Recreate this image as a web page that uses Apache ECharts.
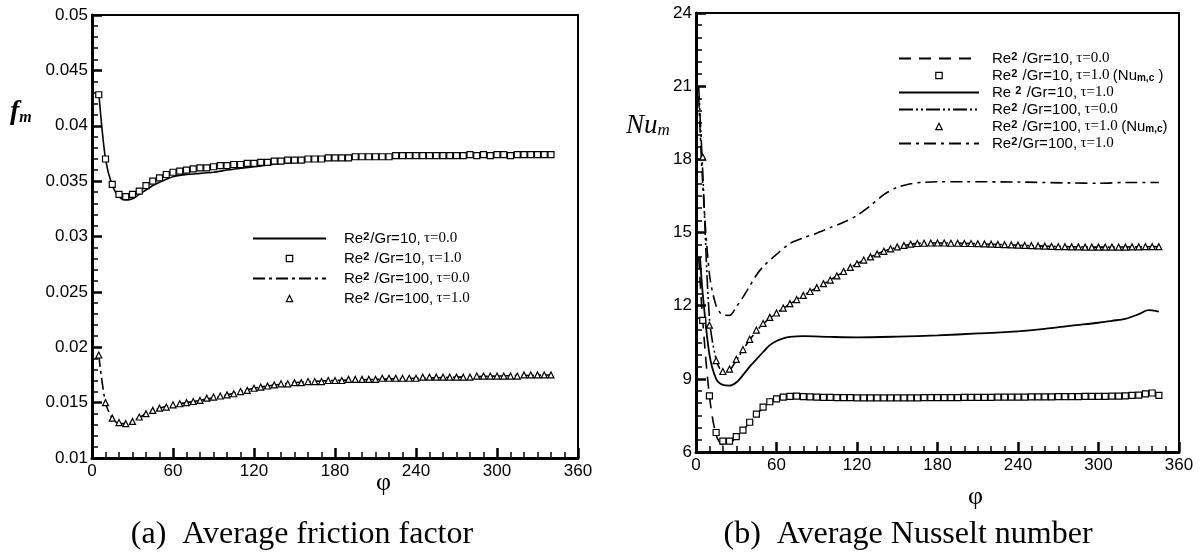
<!DOCTYPE html>
<html>
<head>
<meta charset="utf-8">
<script src="https://cdn.jsdelivr.net/npm/echarts@6/dist/echarts.min.js"></script>
<style>
  html, body { margin: 0; padding: 0; background: #fff; }
  #main { width: 1204px; height: 556px; }
</style>
</head>
<body>
<div id="main"></div>
<script>
// ---- (a) friction factor ----
const phiMarkA = [5,10,15,20,25,30,35,40,45,50,55,60,65,70,75,80,85,90,95,100,105,110,115,120,125,130,135,140,145,150,155,160,165,170,175,180,185,190,195,200,205,210,215,220,225,230,235,240,245,250,255,260,265,270,275,280,285,290,295,300,305,310,315,320,325,330,335,340]
const fSq10 = [
  .0428,.0370,.0347,.0338,.0336,.0338,.0341,.0346,.0350,.0353,
  .0356,.0358,.0359,.0360,.0361,.0362,.0362,.0363,.0364,.0364,
  .0365,.0365,.0366,.0366,.0367,.0367,.0368,.0368,.0369,.0369,
  .0369,.0370,.0370,.0370,.0371,.0371,.0371,.0371,.0372,.0372,
  .0372,.0372,.0372,.0372,.0373,.0373,.0373,.0373,.0373,.0373,
  .0373,.0373,.0373,.0373,.0373,.0374,.0373,.0374,.0373,.0374,
  .0374,.0373,.0374,.0374,.0374,.0374,.0374,.0374]
const fTri100 = [
  .0193,.0150,.0136,.0132,.0131,.0133,.0137,.0140,.0143,.0145,
  .0146,.0148,.0149,.0150,.0151,.0152,.0154,.0155,.0156,.0157,
  .0158,.0160,.0161,.0163,.0164,.0165,.0166,.0167,.0167,.0168,
  .0168,.0169,.0169,.0169,.0170,.0170,.0170,.0171,.0171,.0171,
  .0171,.0171,.0172,.0172,.0172,.0172,.0172,.0172,.0173,.0173,
  .0173,.0173,.0173,.0173,.0173,.0173,.0174,.0174,.0174,.0174,
  .0174,.0174,.0174,.0175,.0175,.0175,.0175,.0175]
const phiLineA10 = [5,10,15,20,25,30,35,40,45,50,60,70,80,90,100,120,140,160,180,200,220,240,270,300,340]
const fLine10 = [.0430,.0370,.0346,.0336,.0333,.0334,.0338,.0342,.0346,.0349,.0354,.0356,.0357,.0358,.0360,.0363,.0366,.0368,.0370,.0371,.0372,.0372,.0373,.0373,.0373]
const phiLineA100 = [5,10,15,20,25,30,40,50,60,80,100,120,150,180,210,240,270,300,340]
const fLine100 = [.0193,.0150,.0136,.0131,.0131,.0133,.0140,.0145,.0148,.0152,.0157,.0163,.0168,.0170,.0171,.0172,.0173,.0174,.0175]

// ---- (b) Nusselt number ----
const phiMarkB = [5,10,15,20,25,30,35,40,45,50,55,60,65,70,75,80,85,90,95,100,105,110,115,120,125,130,135,140,145,150,155,160,165,170,175,180,185,190,195,200,205,210,215,220,225,230,235,240,245,250,255,260,265,270,275,280,285,290,295,300,305,310,315,320,325,330,335,340,345]
const nuSq10 = [
  11.4,8.3,6.8,6.45,6.45,6.63,6.9,7.22,7.55,7.84,
  8.06,8.18,8.25,8.28,8.29,8.27,8.26,8.25,8.24,8.24,
  8.23,8.23,8.23,8.22,8.22,8.22,8.22,8.22,8.22,8.22,
  8.22,8.22,8.22,8.23,8.23,8.23,8.23,8.23,8.23,8.24,
  8.24,8.24,8.24,8.24,8.25,8.25,8.25,8.25,8.25,8.26,
  8.26,8.26,8.26,8.27,8.27,8.27,8.27,8.28,8.28,8.28,
  8.28,8.29,8.29,8.3,8.32,8.33,8.38,8.42,8.32]
const nuTri100 = [
  18.1,11.2,9.75,9.3,9.4,9.8,10.2,10.62,11.0,11.27,
  11.52,11.7,11.9,12.08,12.25,12.42,12.58,12.74,12.9,13.05,
  13.22,13.4,13.57,13.72,13.87,14.0,14.12,14.23,14.33,14.41,
  14.47,14.52,14.55,14.56,14.57,14.57,14.57,14.56,14.56,14.55,
  14.55,14.54,14.53,14.52,14.51,14.5,14.49,14.48,14.47,14.46,
  14.45,14.44,14.43,14.42,14.42,14.41,14.41,14.4,14.4,14.4,
  14.4,14.4,14.4,14.4,14.41,14.41,14.42,14.42,14.42]
const phiDash10 = [2,5,10,15,20,25,30,35,40,45,50,55,60,70,80,100,150,200,250,300,330,345]
const nuDash10 = [14.0,11.4,8.3,6.7,6.3,6.35,6.6,6.9,7.2,7.52,7.82,8.04,8.16,8.26,8.26,8.24,8.22,8.23,8.26,8.28,8.33,8.32]
const phiSolid10 = [3,5,10,15,20,25,30,35,40,45,50,55,60,65,70,80,100,120,150,180,210,240,260,280,300,310,320,330,337,345]
const nuSolid10 = [14.0,12.5,10.0,9.0,8.75,8.72,8.85,9.15,9.5,9.8,10.1,10.38,10.55,10.66,10.72,10.75,10.72,10.7,10.73,10.78,10.86,10.95,11.05,11.18,11.3,11.38,11.46,11.65,11.82,11.76]
const phiDdd100 = [2,5,10,15,20,25,30,40,50,60,80,100,120,140,160,180,220,260,300,345]
const nuDdd100 = [21.0,17.5,11.5,9.8,9.3,9.35,9.75,10.6,11.25,11.7,12.42,13.05,13.72,14.23,14.52,14.57,14.52,14.44,14.4,14.42]
const phiDd100 = [2,5,10,15,20,25,30,35,40,45,50,60,70,80,90,100,110,120,130,140,150,160,170,180,200,240,280,300,320,345]
const nuDd100 = [20.6,17.0,13.3,12.0,11.62,11.6,11.95,12.35,12.8,13.25,13.6,14.1,14.55,14.78,14.97,15.2,15.42,15.7,16.1,16.55,16.85,17.0,17.06,17.08,17.08,17.07,17.03,17.02,17.05,17.05]

const legendText = {
  a1: '{s|Re}{p|2}{s|/Gr=10,} {t|τ=0.0}',
  a2: '{s|Re}{p|2}{s| /Gr=10,} {t|τ=1.0}',
  a3: '{s|Re}{p|2}{s| /Gr=100,} {t|τ=0.0}',
  a4: '{s|Re}{p|2}{s| /Gr=100,} {t|τ=1.0}',
  b1: '{s|Re}{p|2}{s| /Gr=10,} {t|τ=0.0}',
  b2: '{s|Re}{p|2}{s| /Gr=10,} {t|τ=1.0} {s|(Nu}{u|m,c}{s| )}',
  b3: '{s|Re }{p|2}{s| /Gr=10,} {t|τ=1.0}',
  b4: '{s|Re}{p|2}{s| /Gr=100,} {t|τ=0.0}',
  b5: '{s|Re}{p|2}{s| /Gr=100,} {t|τ=1.0} {s|(Nu}{u|m,c}{s|)}',
  b6: '{s|Re}{p|2}{s|/Gr=100,} {t|τ=1.0}'
}

function pairs (xs, ys) {
  return xs.map(function (x, i) { return [x, ys[i]] })
}

const chart = echarts.init(document.getElementById('main'))

const sans = 'Liberation Sans'
const serif = 'Liberation Serif'

function xAxisOf (idx) {
  return {
    gridIndex: idx,
    type: 'value',
    min: 0,
    max: 360,
    interval: 60,
    splitLine: { show: false },
    axisLine: { onZero: false, lineStyle: { color: '#000', width: 3 } },
    axisTick: { inside: true, length: 10, lineStyle: { color: '#000', width: 2.5 } },
    minorTick: { show: true, splitNumber: 6, length: 6, lineStyle: { color: '#000', width: 1.5 } },
    axisLabel: { color: '#000', fontFamily: sans, fontSize: 17, margin: 5 }
  }
}

function yAxisOf (idx, min, max, interval, minorSplit, fmt) {
  return {
    gridIndex: idx,
    type: 'value',
    min: min,
    max: max,
    interval: interval,
    splitLine: { show: false },
    axisLine: { onZero: false, lineStyle: { color: '#000', width: 3 } },
    axisTick: { inside: true, length: 10, lineStyle: { color: '#000', width: 2.5 } },
    minorTick: { show: true, splitNumber: minorSplit, length: 6, lineStyle: { color: '#000', width: 1.5 } },
    axisLabel: { color: '#000', fontFamily: sans, fontSize: 17, margin: 4, formatter: fmt }
  }
}

function lineSeries (name, idx, data, dash, width) {
  return {
    name: name,
    type: 'line',
    xAxisIndex: idx,
    yAxisIndex: idx,
    data: data,
    symbol: 'none',
    smooth: 0.3,
    silent: true,
    lineStyle: { color: '#000', width: width || 1.6, type: dash || 'solid' },
    itemStyle: { color: '#000', opacity: 0 }
  }
}

// markers only: a line series whose line is hidden
function markSeries (name, idx, data, shape) {
  return {
    name: name,
    type: 'line',
    xAxisIndex: idx,
    yAxisIndex: idx,
    data: data,
    symbol: shape,
    symbolSize: 6,
    showSymbol: true,
    showAllSymbol: true,
    silent: true,
    lineStyle: { color: '#000', opacity: 0 },
    itemStyle: { color: '#fff', borderColor: '#000', borderWidth: 1.2 }
  }
}

function lineItem (name) {
  return { name: name, itemStyle: { opacity: 0 } }
}

function markItem (name) {
  return {
    name: name,
    itemStyle: { color: '#fff', borderColor: '#000', borderWidth: 1.2, opacity: 1 },
    lineStyle: { opacity: 0 }
  }
}

const legendRich = {
  s: { fontFamily: sans, fontSize: 15, color: '#000' },
  p: { fontFamily: sans, fontSize: 11, fontWeight: 'bold', color: '#000', verticalAlign: 'top', padding: [0, 1, 6, 0] },
  t: { fontFamily: serif, fontSize: 15, color: '#000' },
  u: { fontFamily: sans, fontSize: 10, fontWeight: 'bold', color: '#000', verticalAlign: 'bottom', padding: [6, 0, 0, 0] }
}

function legendOf (left, top, width, gap, pad, items) {
  return {
    left: left,
    top: top,
    orient: 'vertical',
    selectedMode: false,
    itemWidth: width,
    itemHeight: 8,
    itemGap: gap,
    data: items,
    formatter: function (n) { return legendText[n] },
    textStyle: { padding: [0, 0, 0, pad], lineHeight: 15, rich: legendRich }
  }
}

const option = {
  backgroundColor: '#fff',
  animation: false,
  grid: [
    { left: 92, top: 15, width: 486, height: 443, show: true, borderColor: '#000', borderWidth: 2 },
    { left: 696, top: 13, width: 483, height: 439, show: true, borderColor: '#000', borderWidth: 2 }
  ],
  xAxis: [xAxisOf(0), xAxisOf(1)],
  yAxis: [
    yAxisOf(0, 0.01, 0.05, 0.005, 5, function (v) { return String(+v.toFixed(3)) }),
    yAxisOf(1, 6, 24, 3, 6)
  ],
  legend: [
    legendOf(247, 226, 73, 5, 13, [lineItem('a1'), markItem('a2'), lineItem('a3'), markItem('a4')]),
    legendOf(893, 46, 80, 2, 8, [lineItem('b1'), markItem('b2'), lineItem('b3'), lineItem('b4'), markItem('b5'), lineItem('b6')])
  ],
  series: [
    lineSeries('a1', 0, pairs(phiLineA10, fLine10)),
    markSeries('a2', 0, pairs(phiMarkA, fSq10), 'rect'),
    lineSeries('a3', 0, pairs(phiLineA100, fLine100), [12, 4, 3, 4]),
    markSeries('a4', 0, pairs(phiMarkA, fTri100), 'triangle'),
    lineSeries('b1', 1, pairs(phiDash10, nuDash10), [12, 8]),
    markSeries('b2', 1, pairs(phiMarkB, nuSq10), 'rect'),
    lineSeries('b3', 1, pairs(phiSolid10, nuSolid10), 'solid', 1.8),
    lineSeries('b4', 1, pairs(phiDdd100, nuDdd100), [14, 3, 2, 3, 2, 3]),
    markSeries('b5', 1, pairs(phiMarkB, nuTri100), 'triangle'),
    lineSeries('b6', 1, pairs(phiDd100, nuDd100), [12, 5, 3, 5])
  ],
  graphic: [
    {
      type: 'text', left: 10, top: 98,
      style: {
        text: '{f|f}{m|m}',
        rich: {
          f: { fontFamily: serif, fontStyle: 'italic', fontWeight: 'bold', fontSize: 28, fill: '#000' },
          m: { fontFamily: serif, fontStyle: 'italic', fontWeight: 'bold', fontSize: 16, fill: '#000', verticalAlign: 'bottom', padding: [12, 0, 0, 0] }
        }
      }
    },
    {
      type: 'text', left: 626, top: 112,
      style: {
        text: '{n|Nu}{m|m}',
        rich: {
          n: { fontFamily: serif, fontStyle: 'italic', fontSize: 27, fill: '#000' },
          m: { fontFamily: serif, fontStyle: 'italic', fontSize: 17, fill: '#000', verticalAlign: 'bottom', padding: [10, 0, 0, 0] }
        }
      }
    },
    { type: 'text', left: 376, top: 470, style: { text: 'φ', fontFamily: serif, fontSize: 26, fill: '#000' } },
    { type: 'text', left: 968, top: 484, style: { text: 'φ', fontFamily: serif, fontSize: 26, fill: '#000' } },
    {
      type: 'text', x: 302, y: 535,
      style: { text: '(a)  Average friction factor', fontFamily: serif, fontSize: 32, fill: '#000', textAlign: 'center', textVerticalAlign: 'middle' }
    },
    {
      type: 'text', x: 908, y: 535,
      style: { text: '(b)  Average Nusselt number', fontFamily: serif, fontSize: 32, fill: '#000', textAlign: 'center', textVerticalAlign: 'middle' }
    }
  ]
}

chart.setOption(option)
</script>
</body>
</html>
